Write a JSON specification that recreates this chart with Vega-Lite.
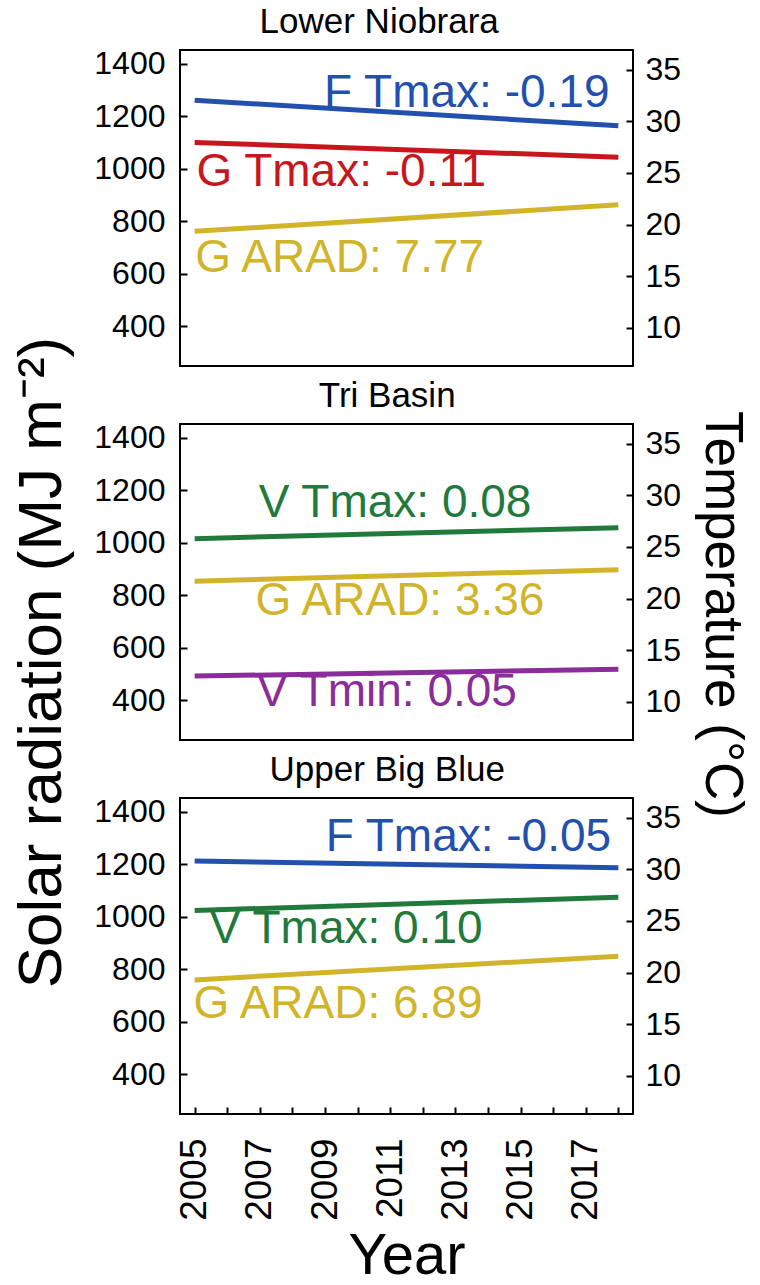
{
  "$schema": "https://vega.github.io/schema/vega-lite/v6.json",
  "background": "white",
  "padding": {"left": 9, "top": 3, "right": 6, "bottom": 1},
  "config": {
    "font": "Liberation Sans",
    "view": {"stroke": "black", "strokeWidth": 2},
    "axis": {"grid": false, "domain": false, "tickColor": "black", "tickWidth": 2, "tickSize": -7, "labelColor": "black", "labelFontSize": 32, "labelFont": "Liberation Sans", "titleFont": "Liberation Sans", "titleFontWeight": "normal", "titleColor": "black", "titleFontSize": 56, "format": "d"},
    "title": {"fontSize": 35, "fontWeight": "normal", "color": "black", "font": "Liberation Sans", "offset": 8, "frame": "bounds", "anchor": "middle"}
  },
  "bounds": "flush",
  "spacing": 58,
  "datasets": {
    "lines": [
      {"panel": "Lower Niobrara", "series": "F Tmax", "unit": "T", "year": 2005, "value": 32.03},
      {"panel": "Lower Niobrara", "series": "F Tmax", "unit": "T", "year": 2018, "value": 29.56},
      {"panel": "Lower Niobrara", "series": "G Tmax", "unit": "T", "year": 2005, "value": 27.95},
      {"panel": "Lower Niobrara", "series": "G Tmax", "unit": "T", "year": 2018, "value": 26.52},
      {"panel": "Lower Niobrara", "series": "G ARAD", "unit": "R", "year": 2005, "value": 762},
      {"panel": "Lower Niobrara", "series": "G ARAD", "unit": "R", "year": 2018, "value": 863},
      {"panel": "Tri Basin", "series": "V Tmax", "unit": "T", "year": 2005, "value": 25.8},
      {"panel": "Tri Basin", "series": "V Tmax", "unit": "T", "year": 2018, "value": 26.85},
      {"panel": "Tri Basin", "series": "G ARAD", "unit": "R", "year": 2005, "value": 854},
      {"panel": "Tri Basin", "series": "G ARAD", "unit": "R", "year": 2018, "value": 898},
      {"panel": "Tri Basin", "series": "V Tmin", "unit": "T", "year": 2005, "value": 12.49},
      {"panel": "Tri Basin", "series": "V Tmin", "unit": "T", "year": 2018, "value": 13.14},
      {"panel": "Upper Big Blue", "series": "F Tmax", "unit": "T", "year": 2005, "value": 30.8},
      {"panel": "Upper Big Blue", "series": "F Tmax", "unit": "T", "year": 2018, "value": 30.15},
      {"panel": "Upper Big Blue", "series": "V Tmax", "unit": "T", "year": 2005, "value": 26.0},
      {"panel": "Upper Big Blue", "series": "V Tmax", "unit": "T", "year": 2018, "value": 27.3},
      {"panel": "Upper Big Blue", "series": "G ARAD", "unit": "R", "year": 2005, "value": 760},
      {"panel": "Upper Big Blue", "series": "G ARAD", "unit": "R", "year": 2018, "value": 850}
    ],
    "labels": [
      {"panel": "Lower Niobrara", "series": "F Tmax", "label": "F Tmax: -0.19", "year": 2013.35, "value": 1290},
      {"panel": "Lower Niobrara", "series": "G Tmax", "label": "G Tmax: -0.11", "year": 2009.5, "value": 988},
      {"panel": "Lower Niobrara", "series": "G ARAD", "label": "G ARAD: 7.77", "year": 2009.45, "value": 661},
      {"panel": "Tri Basin", "series": "V Tmax", "label": "V Tmax: 0.08", "year": 2011.15, "value": 1152},
      {"panel": "Tri Basin", "series": "G ARAD", "label": "G ARAD: 3.36", "year": 2011.3, "value": 777},
      {"panel": "Tri Basin", "series": "V Tmin", "label": "V Tmin: 0.05", "year": 2010.9, "value": 430},
      {"panel": "Upper Big Blue", "series": "F Tmax", "label": "F Tmax: -0.05", "year": 2013.4, "value": 1305},
      {"panel": "Upper Big Blue", "series": "V Tmax", "label": "V Tmax: 0.10", "year": 2009.65, "value": 952},
      {"panel": "Upper Big Blue", "series": "G ARAD", "label": "G ARAD: 6.89", "year": 2009.4, "value": 667}
    ]
  },
  "vconcat": [
    {
      "title": "Lower Niobrara",
      "width": 453, "height": 316,
      "encoding": {
        "x": {"field": "year", "type": "quantitative", "scale": {"domain": [2004.55, 2018.45], "nice": false, "zero": false}, "axis": null},
        "color": {"field": "series", "type": "nominal", "scale": {"domain": ["F Tmax", "G Tmax", "G ARAD", "V Tmax", "V Tmin"], "range": ["#2350ad", "#c8161d", "#d2b42a", "#217a3c", "#8a2c99"]}, "legend": null}
      },
      "layer": [
        {"data": {"name": "lines"}, "transform": [{"filter": "datum.panel === 'Lower Niobrara' && datum.unit === 'R'"}], "mark": {"type": "line", "strokeWidth": 5}, "encoding": {"y": {"field": "value", "type": "quantitative", "scale": {"domain": [249, 1453], "nice": false, "zero": false}, "axis": {"orient": "left", "values": [400, 600, 800, 1000, 1200, 1400], "title": "Solar radiation (MJ m⁻²)", "titleFontSize": 62, "titleY": 612, "titlePadding": 20, "labelPadding": 22}}}},
        {"data": {"name": "lines"}, "transform": [{"filter": "datum.panel === 'Lower Niobrara' && datum.unit === 'T'"}], "mark": {"type": "line", "strokeWidth": 5}, "encoding": {"y": {"field": "value", "type": "quantitative", "scale": {"domain": [6.3, 36.9], "nice": false, "zero": false}, "axis": {"orient": "right", "values": [10, 15, 20, 25, 30, 35], "title": "Temperature (°C)", "titleFontSize": 53, "titleY": 564, "titlePadding": 14, "labelPadding": 19}}}},
        {"data": {"name": "labels"}, "transform": [{"filter": "datum.panel === 'Lower Niobrara'"}], "mark": {"type": "text", "fontSize": 46, "align": "center", "baseline": "middle"}, "encoding": {"y": {"field": "value", "type": "quantitative", "scale": {"domain": [249, 1453], "nice": false, "zero": false}, "axis": null}, "text": {"field": "label"}}}
      ],
      "resolve": {"scale": {"y": "independent"}}
    },
    {
      "title": "Tri Basin",
      "width": 453, "height": 316,
      "encoding": {
        "x": {"field": "year", "type": "quantitative", "scale": {"domain": [2004.55, 2018.45], "nice": false, "zero": false}, "axis": null},
        "color": {"field": "series", "type": "nominal", "scale": {"domain": ["F Tmax", "G Tmax", "G ARAD", "V Tmax", "V Tmin"], "range": ["#2350ad", "#c8161d", "#d2b42a", "#217a3c", "#8a2c99"]}, "legend": null}
      },
      "layer": [
        {"data": {"name": "lines"}, "transform": [{"filter": "datum.panel === 'Tri Basin' && datum.unit === 'R'"}], "mark": {"type": "line", "strokeWidth": 5}, "encoding": {"y": {"field": "value", "type": "quantitative", "scale": {"domain": [249, 1453], "nice": false, "zero": false}, "axis": {"orient": "left", "values": [400, 600, 800, 1000, 1200, 1400], "title": null, "labelPadding": 22}}}},
        {"data": {"name": "lines"}, "transform": [{"filter": "datum.panel === 'Tri Basin' && datum.unit === 'T'"}], "mark": {"type": "line", "strokeWidth": 5}, "encoding": {"y": {"field": "value", "type": "quantitative", "scale": {"domain": [6.3, 36.9], "nice": false, "zero": false}, "axis": {"orient": "right", "values": [10, 15, 20, 25, 30, 35], "title": null, "labelPadding": 19}}}},
        {"data": {"name": "labels"}, "transform": [{"filter": "datum.panel === 'Tri Basin'"}], "mark": {"type": "text", "fontSize": 46, "align": "center", "baseline": "middle"}, "encoding": {"y": {"field": "value", "type": "quantitative", "scale": {"domain": [249, 1453], "nice": false, "zero": false}, "axis": null}, "text": {"field": "label"}}}
      ],
      "resolve": {"scale": {"y": "independent"}}
    },
    {
      "title": "Upper Big Blue",
      "width": 453, "height": 316,
      "encoding": {
        "x": {"field": "year", "type": "quantitative", "scale": {"domain": [2004.55, 2018.45], "nice": false, "zero": false}, "axis": {"values": [2005, 2006, 2007, 2008, 2009, 2010, 2011, 2012, 2013, 2014, 2015, 2016, 2017, 2018], "labelExpr": "datum.value % 2 === 1 ? '' + datum.value : ''", "labelAngle": -90, "labelFontSize": 37, "labelPadding": 31, "title": "Year", "titleFontSize": 58, "titlePadding": 7}},
        "color": {"field": "series", "type": "nominal", "scale": {"domain": ["F Tmax", "G Tmax", "G ARAD", "V Tmax", "V Tmin"], "range": ["#2350ad", "#c8161d", "#d2b42a", "#217a3c", "#8a2c99"]}, "legend": null}
      },
      "layer": [
        {"data": {"name": "lines"}, "transform": [{"filter": "datum.panel === 'Upper Big Blue' && datum.unit === 'R'"}], "mark": {"type": "line", "strokeWidth": 5}, "encoding": {"y": {"field": "value", "type": "quantitative", "scale": {"domain": [249, 1453], "nice": false, "zero": false}, "axis": {"orient": "left", "values": [400, 600, 800, 1000, 1200, 1400], "title": null, "labelPadding": 22}}}},
        {"data": {"name": "lines"}, "transform": [{"filter": "datum.panel === 'Upper Big Blue' && datum.unit === 'T'"}], "mark": {"type": "line", "strokeWidth": 5}, "encoding": {"y": {"field": "value", "type": "quantitative", "scale": {"domain": [6.3, 36.9], "nice": false, "zero": false}, "axis": {"orient": "right", "values": [10, 15, 20, 25, 30, 35], "title": null, "labelPadding": 19}}}},
        {"data": {"name": "labels"}, "transform": [{"filter": "datum.panel === 'Upper Big Blue'"}], "mark": {"type": "text", "fontSize": 46, "align": "center", "baseline": "middle"}, "encoding": {"y": {"field": "value", "type": "quantitative", "scale": {"domain": [249, 1453], "nice": false, "zero": false}, "axis": null}, "text": {"field": "label"}}}
      ],
      "resolve": {"scale": {"y": "independent"}}
    }
  ]
}
